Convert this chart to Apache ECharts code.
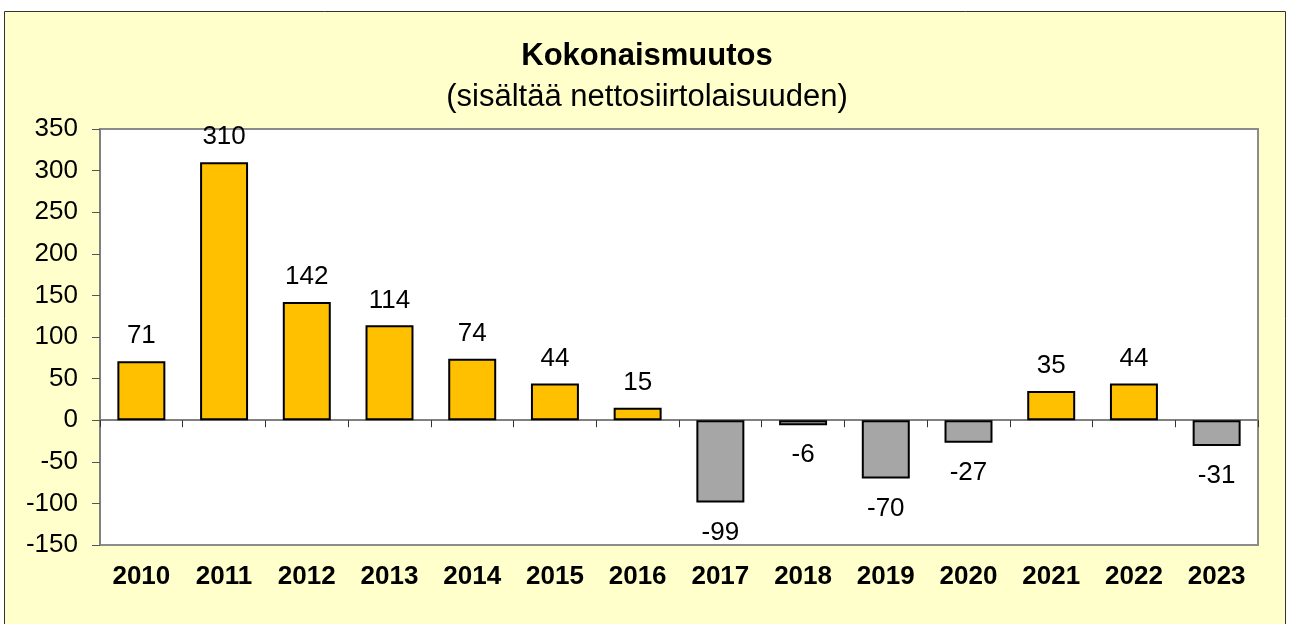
<!DOCTYPE html>
<html>
<head>
<meta charset="utf-8">
<script src="https://cdn.jsdelivr.net/npm/echarts@6/dist/echarts.min.js"></script>
<style>
  html, body { margin: 0; padding: 0; background: #fff; }
  #main { width: 1294px; height: 624px; }
</style>
</head>
<body>
<div id="main"></div>
<script>
const years = ['2010', '2011', '2012', '2013', '2014', '2015', '2016', '2017', '2018', '2019', '2020', '2021', '2022', '2023'];
const values = [71, 310, 142, 114, 74, 44, 15, -99, -6, -70, -27, 35, 44, -31];
const yTicks = { min: -150, max: 350, step: 50 };

const chartDom = document.getElementById('main');
const myChart = echarts.init(chartDom, null, { renderer: 'canvas' });

const font = '"Liberation Sans", Arial, sans-serif';

// positive bars orange with label above, negative grey with label below
const barData = values.map(v => ({
  value: v,
  itemStyle: { color: v >= 0 ? '#FFC000' : '#A6A6A6' },
  label: v >= 0 ? { position: 'top', distance: 12 } : { position: 'bottom', distance: 17 }
}));

const option = {
  backgroundColor: '#ffffff',
  animation: false,
  graphic: [
    {
      type: 'rect',
      z: -10,
      shape: { x: 4.5, y: 11.5, width: 1281, height: 620 },
      style: { fill: '#FFFFCC', stroke: '#333333', lineWidth: 1 }
    }
  ],
  title: [
    {
      text: 'Kokonaismuutos',
      left: 'center',
      top: 36,
      textStyle: { fontFamily: font, fontSize: 31, fontWeight: 'bold', color: '#000' }
    },
    {
      text: '(sisältää nettosiirtolaisuuden)',
      left: 'center',
      top: 77,
      textStyle: { fontFamily: font, fontSize: 31, fontWeight: 'normal', color: '#000' }
    }
  ],
  grid: {
    show: true,
    left: 100,
    top: 129,
    width: 1158,
    height: 416,
    backgroundColor: '#ffffff',
    borderColor: '#8c8c8c',
    borderWidth: 2
  },
  xAxis: [
    {
      type: 'category',
      data: years,
      axisLine: { onZero: true, lineStyle: { color: '#808080', width: 2 } },
      axisTick: { show: true, interval: 0, length: 7, lineStyle: { color: '#333', width: 1 } },
      axisLabel: { show: false }
    },
    {
      type: 'category',
      data: years,
      position: 'bottom',
      axisLine: { show: false, onZero: false },
      axisTick: { show: false },
      axisLabel: {
        interval: 0,
        margin: 19,
        fontFamily: font,
        fontSize: 26,
        fontWeight: 'bold',
        color: '#000'
      }
    }
  ],
  yAxis: {
    type: 'value',
    min: yTicks.min,
    max: yTicks.max,
    interval: yTicks.step,
    axisLine: { show: true, lineStyle: { color: '#808080', width: 2 } },
    axisTick: { show: true, length: 8, lineStyle: { color: '#555', width: 1 } },
    splitLine: { show: false },
    axisLabel: { margin: 22, fontFamily: font, fontSize: 26, color: '#000' }
  },
  series: [
    {
      type: 'bar',
      xAxisIndex: 0,
      data: barData,
      barWidth: '58%',
      itemStyle: { borderColor: '#000', borderWidth: 2 },
      label: {
        show: true,
        fontFamily: font,
        fontSize: 26,
        color: '#000'
      }
    }
  ]
};

myChart.setOption(option);
</script>
</body>
</html>
